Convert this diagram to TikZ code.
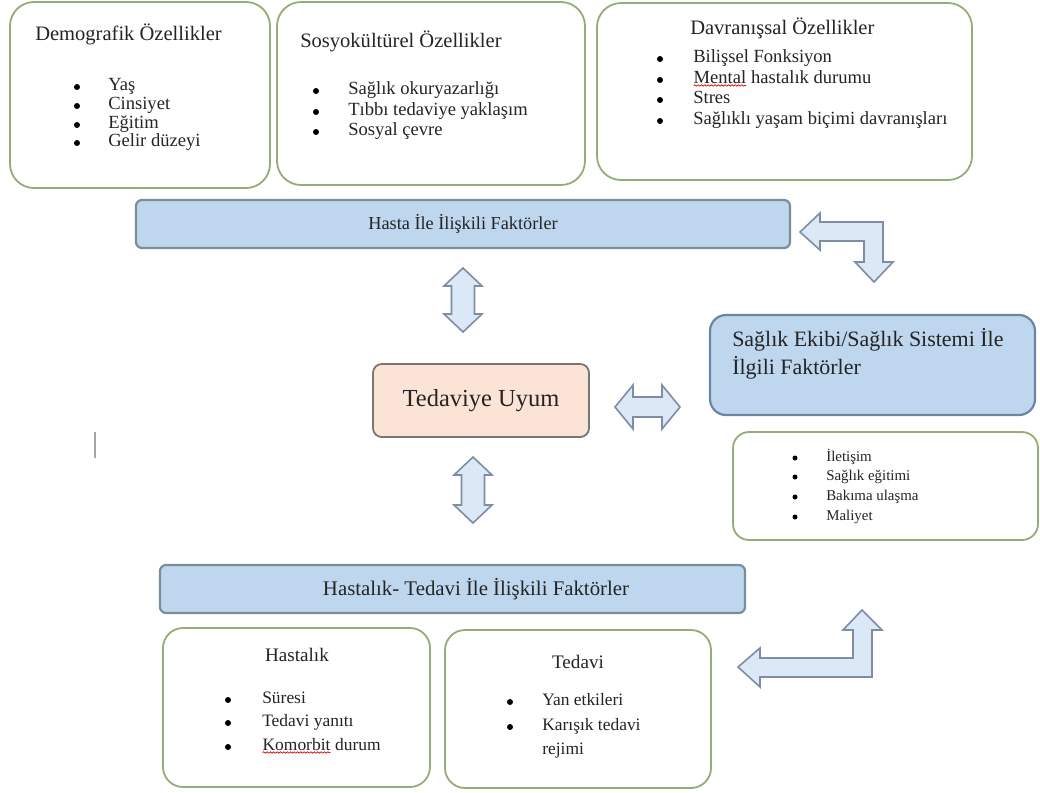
\documentclass[tikz,border=0pt]{standalone}
\usepackage{fontspec}
\setmainfont{Liberation Serif}
\usepackage{xcolor}
\def\unit{0.025cm}
\usetikzlibrary{calc}
\usetikzlibrary{decorations.pathmorphing}
\definecolor{boxline}{RGB}{150,172,118}
\definecolor{barfill}{RGB}{190,214,238}
\definecolor{barline}{RGB}{122,142,154}
\definecolor{sysline}{RGB}{108,134,162}
\definecolor{uyumfill}{RGB}{251,228,214}
\definecolor{uyumline}{RGB}{118,118,118}
\definecolor{arrowfill}{RGB}{219,232,246}
\definecolor{arrowline}{RGB}{126,140,166}
\definecolor{txt}{RGB}{36,36,36}
\newcommand{\wavy}[1]{\tikz[baseline=(w.base)]{\node[inner sep=0pt,outer sep=0pt,draw=none,anchor=center] (w) {#1};
  \draw[red!85!black, line width=0.5pt, decorate, decoration={snake,amplitude=0.5pt,segment length=2.4pt}]
  ([yshift=-1.6pt]w.base west) -- ([yshift=-1.6pt]w.base east);}}

\begin{document}
\begin{tikzpicture}[x=\unit, y=-\unit, text=txt]
	\tikzstyle{grp}=[rectangle, draw=boxline, line width=0.045cm, rounded corners=0.6cm, fill=white, inner sep=0pt]
	\tikzstyle{small grp}=[grp, rounded corners=0.4cm]
	\tikzstyle{bar}=[rectangle, draw=barline, fill=barfill, line width=0.055cm, rounded corners=0.15cm, inner sep=0pt]
	\tikzstyle{system}=[bar, draw=sysline, rounded corners=0.4cm]
	\tikzstyle{center box}=[rectangle, draw=uyumline, fill=uyumfill, line width=0.045cm, rounded corners=0.22cm, inner sep=0pt]
	\tikzstyle{block arrow}=[draw=arrowline, fill=arrowfill, line width=0.04cm, line join=miter]
	\tikzstyle{title}=[inner sep=0pt, font=\fontsize{14.6}{17}\selectfont]
	\tikzstyle{item}=[inner sep=0pt, anchor=mid west, font=\fontsize{13.2}{16}\selectfont]
	\tikzstyle{low item}=[item, font=\fontsize{12.4}{15}\selectfont]
	\tikzstyle{tiny item}=[item, font=\fontsize{10.6}{12}\selectfont]
	\useasboundingbox (0,0) rectangle (1040,792);
	
	% Draw the patient characteristic groups
	\node[grp, minimum width=260*\unit, minimum height=186*\unit] (demo) at (140,95) {};
	\node[grp, minimum width=308*\unit, minimum height=183*\unit] (sosyo) at (431,93.5) {};
	\node[grp, minimum width=375*\unit, minimum height=177*\unit] (davr) at (784.5,91.5) {};
	
	\node[title, anchor=mid west] (demo-t) at (35,37) {Demografik Özellikler};
	\foreach \name / \y / \txt in {1/87/Yaş, 2/106/Cinsiyet, 3/125/Eğitim, 4/143/Gelir düzeyi}
	{
		\fill (77,\y) circle (3);
		\node[item] (D-\name) at (108,\y) {\txt};
	}
	
	\node[title, anchor=mid west] (sosyo-t) at (300,44) {Sosyokültürel Özellikler};
	\foreach \name / \y / \txt in {1/91/Sağlık okuryazarlığı, 2/112/Tıbbı tedaviye yaklaşım, 3/132/Sosyal çevre}
	{
		\fill (316,\y) circle (3);
		\node[item] (S-\name) at (348,\y) {\txt};
	}
	
	\node[title, anchor=mid west] (davr-t) at (690,31) {Davranışsal Özellikler};
	\foreach \name / \y / \txt in {1/59/Bilişsel Fonksiyon, 2/80/{\wavy{Mental} hastalık durumu}, 3/100/Stres, 4/121/Sağlıklı yaşam biçimi davranışları}
	{
		\fill (660,\y) circle (3);
		\node[item] (B-\name) at (693,\y) {\txt};
	}
	
	% Draw the factor bars
	\node[bar, minimum width=654*\unit, minimum height=48*\unit] (hasta) at (463,224) {};
	\node[inner sep=0pt, font=\fontsize{13}{16}\selectfont] at (hasta) {Hasta İle İlişkili Faktörler};
	
	\node[system, minimum width=325*\unit, minimum height=100*\unit] (saglik) at (872.5,365) {};
	\node[inner sep=0pt, anchor=west, align=left, font=\fontsize{15.6}{20}\selectfont] (saglik-t) at (732,354)
	{Sağlık Ekibi/Sağlık Sistemi İle\\İlgili Faktörler};
	
	\node[small grp, minimum width=305*\unit, minimum height=108*\unit] (iletisim) at (885.5,486) {};
	\foreach \name / \y / \txt in {1/458/İletişim, 2/477/Sağlık eğitimi, 3/497/Bakıma ulaşma, 4/517/Maliyet}
	{
		\fill (795,\y) circle (2.5);
		\node[tiny item] (I-\name) at (826,\y) {\txt};
	}
	
	% Draw the adherence box
	\node[center box, minimum width=216*\unit, minimum height=73*\unit] (uyum) at (481,400.5) {};
	\node[inner sep=0pt, font=\fontsize{17.4}{20}\selectfont] at (uyum) {Tedaviye Uyum};
	
	% Draw the disease and treatment groups
	\node[bar, minimum width=585*\unit, minimum height=48*\unit] (hastalik) at (452.5,589) {};
	\node[inner sep=0pt, font=\fontsize{14.8}{17}\selectfont] at (476,589) {Hastalık- Tedavi İle İlişkili Faktörler};
	
	\node[grp, rounded corners=0.5cm, minimum width=267*\unit, minimum height=159*\unit] (disease) at (296.5,707.5) {};
	\node[title, font=\fontsize{13.6}{16}\selectfont] (disease-t) at (297,655) {Hastalık};
	\foreach \name / \y / \txt in {1/700/Süresi, 2/723/Tedavi yanıtı, 3/747/{\wavy{Komorbit} durum}}
	{
		\fill (228,\y) circle (3);
		\node[low item] (H-\name) at (262,\y) {\txt};
	}
	
	\node[grp, rounded corners=0.5cm, minimum width=266*\unit, minimum height=158*\unit] (treat) at (578,709) {};
	\node[title, font=\fontsize{13.6}{16}\selectfont] (treat-t) at (578,662) {Tedavi};
	\foreach \name / \y / \txt in {1/702/Yan etkileri, 2/727/Karışık tedavi}
	{
		\fill (510,\y) circle (3);
		\node[low item] (T-\name) at (542,\y) {\txt};
	}
	\node[low item] (T-3) at (542,751) {rejimi};
	
	% Connect the groups with block arrows
	\foreach \x / \ya / \yb in {463/268/332, 473/457/523}
	\draw[block arrow] (\x,\ya) -- (\x+19,\ya+18) -- (\x+11.5,\ya+18) -- (\x+11.5,\yb-18) -- (\x+19,\yb-18)
	-- (\x,\yb) -- (\x-19,\yb-18) -- (\x-11.5,\yb-18) -- (\x-11.5,\ya+18) -- (\x-19,\ya+18) -- cycle;
	
	\draw[block arrow] (615,407) -- (633,385) -- (633,397) -- (662,397) -- (662,385) -- (680,407)
	-- (662,429) -- (662,417) -- (633,417) -- (633,429) -- cycle;
	
	\draw[block arrow] (800,232) -- (820,213) -- (820,222) -- (883,222) -- (883,262) -- (893,262)
	-- (874,282) -- (855,262) -- (864,262) -- (864,241) -- (820,241) -- (820,250) -- cycle;
	
	\draw[block arrow] (738,667) -- (760,648) -- (760,658) -- (853,658) -- (853,630) -- (843,630)
	-- (862,610) -- (882,630) -- (872,630) -- (872,677) -- (760,677) -- (760,687) -- cycle;
	
	% Text cursor
	\draw[gray!70, line width=0.035cm] (95,432) -- (95,458);
\end{tikzpicture}
\end{document}
